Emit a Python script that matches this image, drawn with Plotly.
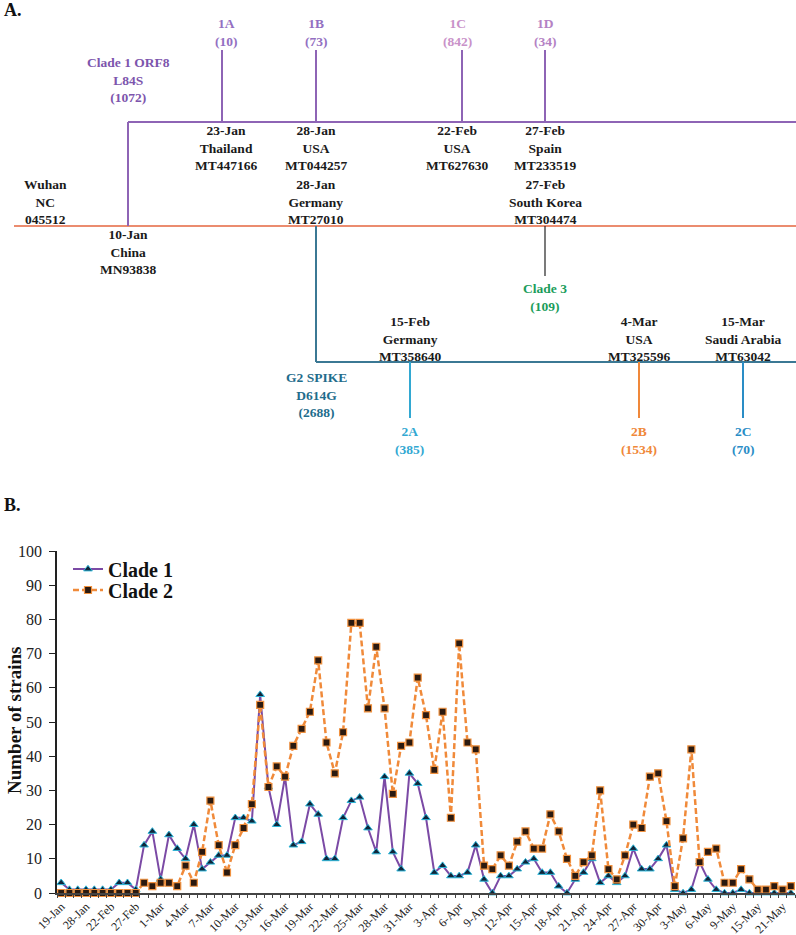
import plotly.graph_objects as go

W, H = 796, 935
SERIF = "Liberation Serif"

# ---------------- panel B data ----------------
dates = ["19-Jan", "23-Jan", "25-Jan", "28-Jan", "2-Feb", "15-Feb", "22-Feb", "24-Feb", "26-Feb",
         "27-Feb", "28-Feb", "29-Feb",
         "1-Mar", "2-Mar", "3-Mar", "4-Mar", "5-Mar", "6-Mar", "7-Mar", "8-Mar", "9-Mar", "10-Mar",
         "11-Mar", "12-Mar", "13-Mar", "14-Mar", "15-Mar", "16-Mar", "17-Mar", "18-Mar", "19-Mar",
         "20-Mar", "21-Mar", "22-Mar", "23-Mar", "24-Mar", "25-Mar", "26-Mar", "27-Mar", "28-Mar",
         "29-Mar", "30-Mar", "31-Mar",
         "1-Apr", "2-Apr", "3-Apr", "4-Apr", "5-Apr", "6-Apr", "7-Apr", "8-Apr", "9-Apr", "10-Apr",
         "11-Apr", "12-Apr", "13-Apr", "14-Apr", "15-Apr", "16-Apr", "17-Apr", "18-Apr", "19-Apr",
         "20-Apr", "21-Apr", "22-Apr", "23-Apr", "24-Apr", "25-Apr", "26-Apr", "27-Apr", "28-Apr",
         "29-Apr", "30-Apr",
         "1-May", "2-May", "3-May", "4-May", "5-May", "6-May", "7-May", "8-May", "9-May",
         "11-May", "13-May", "15-May", "17-May", "19-May", "21-May", "24-May"]

clade1 = [3, 1, 1, 1, 1, 1, 1, 3, 3, 1,
          14, 18, 4, 17, 13, 10, 20, 7, 9, 11,
          11, 22, 22, 21, 58, 31, 20, 34, 14, 15,
          26, 23, 10, 10, 22, 27, 28, 19, 12, 34,
          12, 7, 35, 32, 22, 6, 8, 5, 5, 6,
          14, 4, 0, 5, 5, 7, 9, 10, 6, 6,
          2, 0, 4, 6, 10, 3, 5, 3, 5, 13,
          7, 7, 10, 14, 1, 0, 1, 9, 4, 1,
          0, 0, 1, 0, 0, 0, 0, 0, 0]

clade2 = [0, 0, 0, 0, 0, 0, 0, 0, 0, 0,
          3, 2, 3, 3, 2, 8, 3, 12, 27, 14,
          6, 14, 19, 26, 55, 31, 37, 34, 43, 48,
          53, 68, 44, 35, 47, 79, 79, 54, 72, 54,
          29, 43, 44, 63, 52, 36, 53, 22, 73, 44,
          42, 8, 7, 11, 8, 15, 18, 13, 13, 23,
          18, 10, 5, 9, 11, 30, 7, 4, 11, 20,
          19, 34, 35, 21, 2, 16, 42, 9, 12, 13,
          3, 3, 7, 4, 1, 1, 2, 1, 2]

# ---------------- panel A data ----------------
root_node = ["Wuhan", "NC", "045512"]
branch_nodes = [["10-Jan", "China", "MN93838"],
                ["28-Jan", "Germany", "MT27010"],
                ["27-Feb", "South Korea", "MT304474"]]
clade_titles = ["Clade 1 ORF8<br>L84S", "G2 SPIKE<br>D614G", "Clade 3"]
clade_counts = [1072, 2688, 109]

clade1_nodes = [["23-Jan", "Thailand", "MT447166"],
                ["28-Jan", "USA", "MT044257"],
                ["22-Feb", "USA", "MT627630"],
                ["27-Feb", "Spain", "MT233519"]]
clade1_subs = ["1A", "1B", "1C", "1D"]
clade1_sub_counts = [10, 73, 842, 34]

clade2_nodes = [["15-Feb", "Germany", "MT358640"],
                ["4-Mar", "USA", "MT325596"],
                ["15-Mar", "Saudi Arabia", "MT63042"]]
clade2_subs = ["2A", "2B", "2C"]
clade2_sub_counts = [385, 1534, 70]


def px(x):
    return x / W


def py(y):
    return 1 - y / H


shapes = []
annotations = []


def seg(x0, y0, x1, y1, color, width=2):
    shapes.append(dict(type="line", xref="paper", yref="paper",
                       x0=px(x0), y0=py(y0), x1=px(x1), y1=py(y1),
                       line=dict(color=color, width=width)))


def label(x, y, text, color="#1a1a1a", size=13.5, anchor="center"):
    annotations.append(dict(xref="paper", yref="paper", x=px(x), y=py(y),
                            text="<b>" + text + "</b>", showarrow=False,
                            xanchor=anchor, yanchor="middle", align="center",
                            font=dict(family=SERIF, size=size, color=color)))


# --- tree diagram (panel A) ---
RED, PURPLE, TEAL = "#e5663f", "#8e64b5", "#3b7894"
seg(14, 226, 796, 226, RED, 1.5)
seg(128, 226, 128, 122, PURPLE)
seg(128, 122, 796, 122, PURPLE)
seg(316, 226, 316, 362, TEAL)
seg(316, 362, 796, 362, TEAL)
seg(545, 226, 545, 276, "#222222", 1.2)

c1_x = [222, 316, 462, 545]
c1_lbl_x = [226, 316, 457, 545]
c1_cols = ["#9370c2", "#9370c2", "#c992c9", "#b482c4"]
for i in range(len(clade1_subs)):
    seg(c1_x[i], 50, c1_x[i], 122, PURPLE)
    label(c1_lbl_x[i], 33, f"{clade1_subs[i]}<br>({clade1_sub_counts[i]})", c1_cols[i])
    label(c1_lbl_x[i], 148, "<br>".join(clade1_nodes[i]))

c2_x = [410, 639, 743]
c2_cols = ["#32a8d2", "#f0883a", "#2a8dc6"]
for i in range(len(clade2_subs)):
    seg(c2_x[i], 362, c2_x[i], 418, c2_cols[i])
    label(c2_x[i], 440, f"{clade2_subs[i]}<br>({clade2_sub_counts[i]})", c2_cols[i])
    label(c2_x[i], 339, "<br>".join(clade2_nodes[i]))

label(45, 202, "<br>".join(root_node))
br_pos = [(128, 252), (316, 202), (545, 202)]
for (bx, by), node in zip(br_pos, branch_nodes):
    label(bx, by, "<br>".join(node))

title_pos = [(128, 80), (316, 395), (545, 297)]
title_cols = ["#7d55ad", "#1f6d8c", "#1b9d5b"]
for (tx, ty), t, n, c in zip(title_pos, clade_titles, clade_counts, title_cols):
    label(tx, ty, f"{t}<br>({n})", c)

label(2, 10, "A.", "#111111", 18, "left")
label(2, 505, "B.", "#111111", 18, "left")
annotations.append(dict(xref="paper", yref="paper", x=px(14), y=py(721),
                        text="<b>Number of strains</b>", textangle=-90, showarrow=False,
                        xanchor="center", yanchor="middle",
                        font=dict(family=SERIF, size=19, color="#111111")))

# --- line chart (panel B) ---
fig = go.Figure()
fig.add_trace(go.Scatter(x=dates, y=clade1, name="<b>Clade 1</b>", mode="lines+markers",
                         line=dict(color="#7b4aa5", width=2),
                         marker=dict(symbol="triangle-up", size=7.5, color="#10263a",
                                     line=dict(color="#2bb5d8", width=1)),
                         cliponaxis=False, showlegend=True, legend="legend"))
fig.add_trace(go.Scatter(x=dates, y=clade2, name="<b>Clade 2</b>", mode="lines+markers",
                         line=dict(color="#f08a3a", width=2.5, dash="6px,3px"),
                         marker=dict(symbol="square", size=7, color="#2b1a10",
                                     line=dict(color="#f0913f", width=1.2)),
                         cliponaxis=False, showlegend=True, legend="legend2"))

legend_style = dict(xanchor="left", yanchor="middle", bgcolor="rgba(0,0,0,0)",
                    font=dict(family=SERIF, size=20, color="#111111"), itemwidth=30,
                    visible=True)

fig.update_layout(
    width=W, height=H, margin=dict(l=0, r=0, t=0, b=0),
    paper_bgcolor="white", plot_bgcolor="white", showlegend=True,
    shapes=shapes, annotations=annotations,
    legend=dict(x=px(68), y=py(569), **legend_style),
    legend2=dict(x=px(68), y=py(590), **legend_style),
    xaxis=dict(domain=[px(57), px(795)], type="category", range=[-0.5, len(dates) - 0.5],
               tickmode="array", tickvals=dates,
               ticktext=[d if i % 3 == 0 else "" for i, d in enumerate(dates)],
               tickson="boundaries", ticks="outside", ticklen=3, tickcolor="#444444",
               showline=True, linecolor="#444444", linewidth=1.5, tickangle=-45,
               tickfont=dict(family=SERIF, size=12, color="#222222"),
               showgrid=False, automargin=False),
    yaxis=dict(domain=[1 - 893 / H, 1 - 551 / H], range=[0, 100], dtick=10,
               ticks="outside", ticklen=6, tickcolor="#222222",
               showline=True, linecolor="#222222", linewidth=1.5,
               tickfont=dict(family=SERIF, size=16, color="#222222"),
               ticklabelstandoff=4, showgrid=False, zeroline=False, automargin=False),
)

# the page body has a default 8px margin; drop it so the figure sits at the window origin
fig.write_html("out.html", config={"displayModeBar": False},
               post_script="document.body.style.margin='0';")
